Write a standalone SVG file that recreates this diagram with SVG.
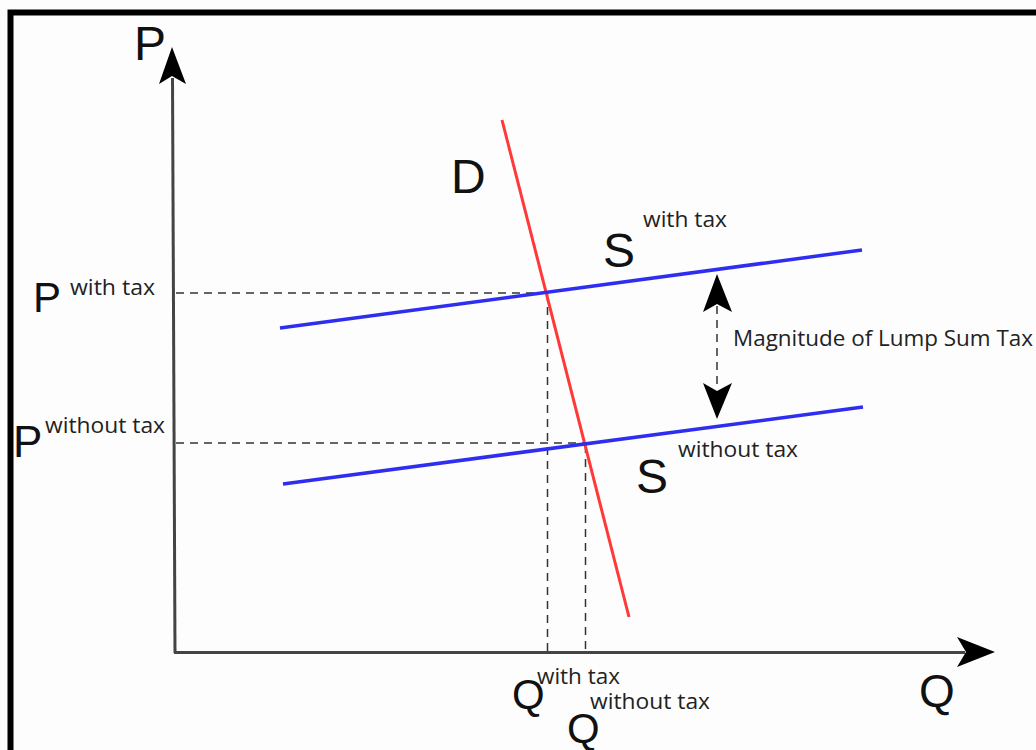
<svg xmlns="http://www.w3.org/2000/svg" width="1036" height="750" viewBox="0 0 1036 750">
<style>
.big{font-family:"Liberation Sans",Arial,sans-serif;fill:#111}
.sm{font-family:"Open Sans","Liberation Sans",sans-serif;font-size:22px;fill:#222}
.dash{stroke:#333;stroke-width:1.5;stroke-dasharray:8 6;fill:none}
.axis{stroke:#444;stroke-width:3;fill:none}
</style>
<rect width="1036" height="750" fill="#fdfdfd"/>
<rect x="10.5" y="12.5" width="1040" height="760" fill="none" stroke="#000" stroke-width="6"/>
<g id="connectors">
<line class="axis" x1="175" y1="653" x2="172.5" y2="78"/>
<path d="M172,47 L159,84 L172,76 L186,84 Z" fill="#000"/>
<line class="axis" x1="174" y1="652.5" x2="965" y2="652.5"/>
<path d="M995,652 L957,637 L966,652 L957,667 Z" fill="#000"/>
<line class="dash" x1="176" y1="293" x2="546" y2="293"/>
<line class="dash" x1="547.5" y1="293" x2="547.5" y2="651"/>
<line class="dash" x1="176" y1="443" x2="585" y2="443"/>
<line class="dash" x1="585.5" y1="445" x2="585.5" y2="651"/>
<line x1="502" y1="120" x2="629" y2="617" stroke="#ff3838" stroke-width="3"/>
<line x1="280" y1="328" x2="862" y2="250" stroke="#2e2ef0" stroke-width="3.5"/>
<line x1="283" y1="484" x2="863" y2="407" stroke="#2e2ef0" stroke-width="3.5"/>
<line class="dash" x1="717" y1="306" x2="717" y2="390"/>
<path d="M717,274 L703,312 L717,304 L732,312 Z" fill="#000"/>
<path d="M717,419 L703,383 L717,391 L732,383 Z" fill="#000"/>
</g>
<g id="label-P"><text class="big" x="134" y="60" font-size="48">P</text></g>
<g id="label-Q"><text class="big" x="919" y="707" font-size="46">Q</text></g>
<g id="label-D"><text class="big" x="451" y="193" font-size="48">D</text></g>
<g id="label-S-with"><text class="big" x="603" y="267" font-size="48">S</text><text class="sm" x="643" y="227" textLength="84" lengthAdjust="spacingAndGlyphs">with tax</text></g>
<g id="label-S-without"><text class="big" x="636" y="493" font-size="48">S</text><text class="sm" x="678" y="457" textLength="120" lengthAdjust="spacingAndGlyphs">without tax</text></g>
<g id="label-P-with"><text class="big" x="33" y="312" font-size="42">P</text><text class="sm" x="70" y="295" textLength="85" lengthAdjust="spacingAndGlyphs">with tax</text></g>
<g id="label-P-without"><text class="big" x="13" y="457" font-size="44">P</text><text class="sm" x="45" y="433" textLength="120" lengthAdjust="spacingAndGlyphs">without tax</text></g>
<g id="label-Q-with"><text class="big" x="512" y="709" font-size="42">Q</text><text class="sm" x="537" y="684" textLength="83" lengthAdjust="spacingAndGlyphs">with tax</text></g>
<g id="label-Q-without"><text class="big" x="567" y="743" font-size="42">Q</text><text class="sm" x="590" y="709" textLength="120" lengthAdjust="spacingAndGlyphs">without tax</text></g>
<g id="label-tax"><text class="sm" x="733" y="346" font-size="22" textLength="300" lengthAdjust="spacingAndGlyphs">Magnitude of Lump Sum Tax</text></g>
</svg>
